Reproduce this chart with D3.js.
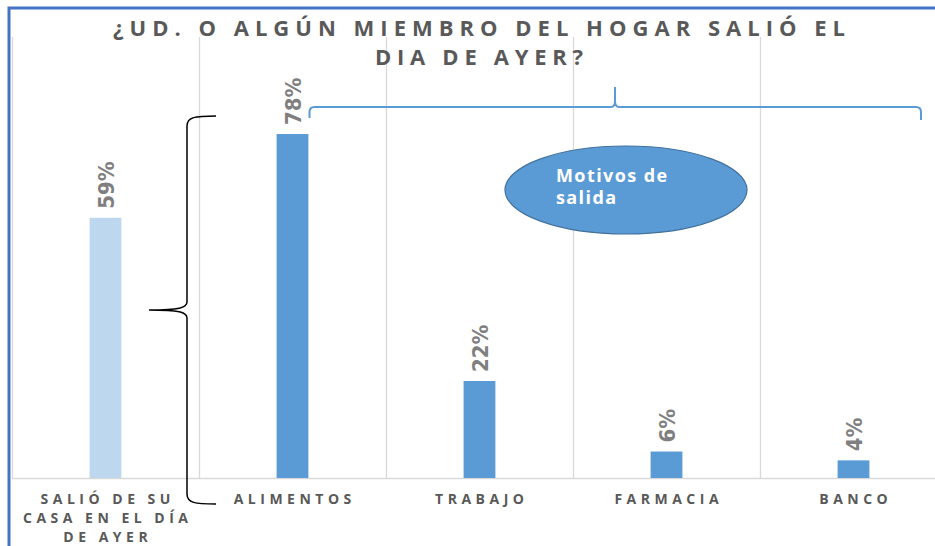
<!DOCTYPE html>
<meta charset="utf-8">
<style>
    body { margin: 0; background: #fff; }
    svg { display: block; }
</style>
<svg width="935" height="546"></svg>

<script src="https://d3js.org/d3.v7.min.js"></script>
<script>
    var titleLines = ["¿UD. O ALGÚN MIEMBRO DEL HOGAR SALIÓ EL", "DIA DE AYER?"];
    var categories = ["SALIÓ DE SU CASA EN EL DÍA DE AYER", "ALIMENTOS", "TRABAJO", "FARMACIA", "BANCO"];
    var categoryLines = [["SALIÓ DE SU", "CASA EN EL DÍA", "DE AYER"], ["ALIMENTOS"], ["TRABAJO"], ["FARMACIA"], ["BANCO"]];
    var values = [0.59, 0.78, 0.22, 0.06, 0.04];
    var calloutLines = ["Motivos de", "salida"];

    (function () {
        var svg = d3.select("svg"),
            left = 12,
            top = 37,
            bottom = 478,
            step = 187,
            x = d3.scaleBand()
                .domain(categories)
                .range([left, left + step * categories.length]),
            y = d3.scaleLinear()
                .domain([0, 1])
                .range([bottom, top]),
            barWidth = x.bandwidth() * 0.17,
            center = function (d) {
                return x(d) + x.bandwidth() / 2;
            },
            pct = d3.format(".0%");

        // outer frame (blue border on left and top)
        svg.append("path")
            .attr("d", "M9,546V8H935")
            .attr("fill", "none")
            .attr("stroke", "#4472c4")
            .attr("stroke-width", 3);

        // vertical gridlines at category boundaries
        svg.append("g")
            .selectAll("line")
            .data(categories)
            .enter()
            .append("line")
            .attr("x1", function (d) { return x(d) + 0.5; })
            .attr("x2", function (d) { return x(d) + 0.5; })
            .attr("y1", top)
            .attr("y2", bottom)
            .attr("stroke", "#d9d9d9")
            .attr("stroke-width", 1.3);

        // baseline
        svg.append("line")
            .attr("x1", left)
            .attr("x2", 935)
            .attr("y1", bottom + 0.5)
            .attr("y2", bottom + 0.5)
            .attr("stroke", "#d9d9d9")
            .attr("stroke-width", 1.3);

        // bars
        svg.append("g")
            .selectAll("rect")
            .data(values)
            .enter()
            .append("rect")
            .attr("x", function (d, i) { return center(categories[i]) - barWidth / 2; })
            .attr("y", function (d) { return y(d); })
            .attr("width", barWidth)
            .attr("height", function (d) { return bottom - y(d); })
            .attr("fill", function (d, i) { return i === 0 ? "#bdd7ee" : "#5b9bd5"; });

        // value labels, rotated
        svg.append("g")
            .selectAll("text")
            .data(values)
            .enter()
            .append("text")
            .attr("transform", function (d, i) {
                return "translate(" + (center(categories[i]) + 8) + "," + (y(d) - 9) + ") rotate(-90)";
            })
            .attr("font-family", "'Liberation Sans Narrow', 'DejaVu Sans Condensed', sans-serif")
            .attr("font-weight", "bold")
            .attr("font-size", 22)
            .attr("fill", "#7f7f7f")
            .text(function (d) { return pct(d); });

        // category labels
        var spacing = 4.5;
        var cat = svg.append("g")
            .attr("font-family", "'Open Sans', sans-serif")
            .attr("font-weight", "bold")
            .attr("font-size", 14)
            .attr("letter-spacing", spacing + "px")
            .attr("fill", "#595959")
            .attr("text-anchor", "middle");

        categoryLines.forEach(function (lines, i) {
            lines.forEach(function (line, j) {
                cat.append("text")
                    .attr("x", center(categories[i]) + spacing / 2)
                    .attr("y", 504 + j * 19)
                    .text(line);
            });
        });

        // title
        var titleWidths = [732, 208];
        svg.append("g")
            .attr("font-family", "'Open Sans', sans-serif")
            .attr("font-weight", "bold")
            .attr("font-size", 22)
            .attr("fill", "#595959")
            .attr("text-anchor", "middle")
            .selectAll("text")
            .data(titleLines)
            .enter()
            .append("text")
            .attr("x", 479)
            .attr("y", function (d, i) { return 36 + i * 29; })
            .attr("textLength", function (d, i) { return titleWidths[i]; })
            .attr("lengthAdjust", "spacing")
            .text(function (d) { return d; });

        // black brace grouping the first bar
        var bx = x(categories[1]) - 12,
            bTop = 116,
            bBot = 504,
            bMid = 310;
        svg.append("path")
            .attr("d",
                "M" + (bx + 29) + "," + bTop +
                " C" + (bx + 8) + "," + bTop + " " + bx + "," + (bTop + 1) + " " + bx + "," + (bTop + 10) +
                " L" + bx + "," + (bMid - 8) +
                " C" + bx + "," + (bMid - 2) + " " + (bx - 8) + "," + bMid + " " + (bx - 38) + "," + bMid +
                " C" + (bx - 8) + "," + bMid + " " + bx + "," + (bMid + 2) + " " + bx + "," + (bMid + 8) +
                " L" + bx + "," + (bBot - 10) +
                " C" + bx + "," + (bBot - 1) + " " + (bx + 8) + "," + bBot + " " + (bx + 29) + "," + bBot)
            .attr("fill", "none")
            .attr("stroke", "#000")
            .attr("stroke-width", 1.5);

        // blue brace above the reasons
        var h = 107,
            x0 = center(categories[1]) + 17,
            x1 = 921,
            tip = 615;
        svg.append("path")
            .attr("d",
                "M" + x0 + "," + (h + 11) +
                " L" + x0 + "," + (h + 5) +
                " Q" + x0 + "," + h + " " + (x0 + 5) + "," + h +
                " L" + (tip - 4) + "," + h +
                " Q" + tip + "," + h + " " + tip + "," + (h - 6) +
                " L" + tip + "," + (h - 20) +
                " M" + tip + "," + (h - 6) +
                " Q" + tip + "," + h + " " + (tip + 4) + "," + h +
                " L" + (x1 - 5) + "," + h +
                " Q" + x1 + "," + h + " " + x1 + "," + (h + 5) +
                " L" + x1 + "," + (h + 13))
            .attr("fill", "none")
            .attr("stroke", "#5b9bd5")
            .attr("stroke-width", 2);

        // callout ellipse
        svg.append("ellipse")
            .attr("cx", 626)
            .attr("cy", 190)
            .attr("rx", 121)
            .attr("ry", 44)
            .attr("fill", "#5b9bd5")
            .attr("stroke", "#41719c")
            .attr("stroke-width", 1.2);

        svg.append("g")
            .attr("font-family", "'Open Sans', sans-serif")
            .attr("font-weight", "bold")
            .attr("font-size", 18)
            .attr("letter-spacing", "1.4px")
            .attr("fill", "#fff")
            .selectAll("text")
            .data(calloutLines)
            .enter()
            .append("text")
            .attr("x", 556)
            .attr("y", function (d, i) { return 182 + i * 22; })
            .text(function (d) { return d; });
    })();
</script>
